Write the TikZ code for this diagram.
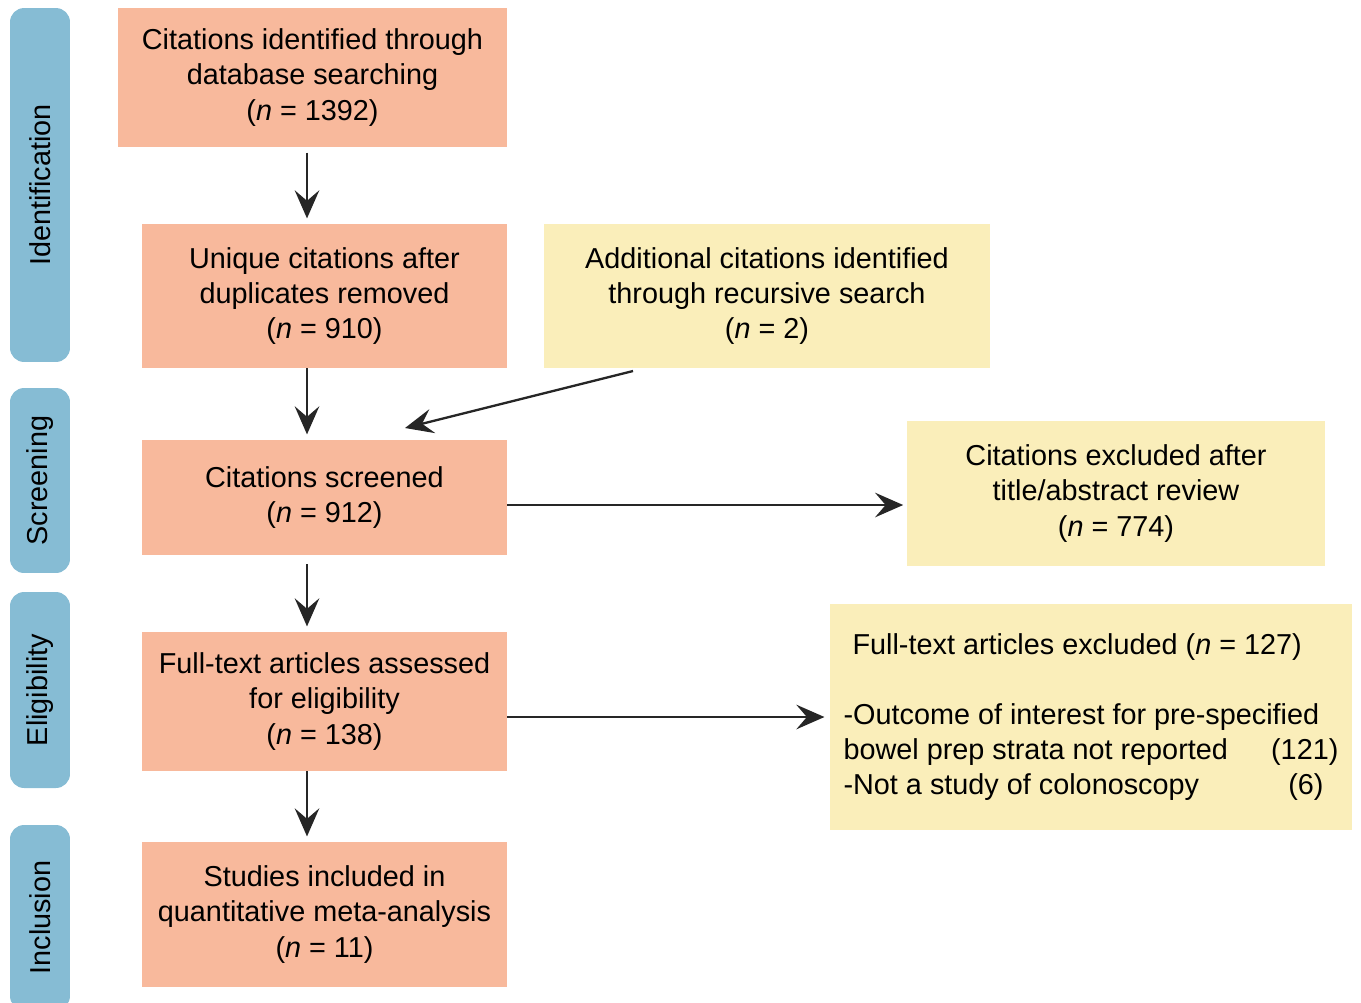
\documentclass[tikz,border=0pt]{standalone}
\usepackage{fontspec}
\setmainfont{Liberation Sans}
\usepackage{tikz}
\usetikzlibrary{positioning, arrows.meta}
\definecolor{salmon}{HTML}{F8B99C}
\definecolor{cream}{HTML}{FAEEBA}
\definecolor{phase}{HTML}{86BCD4}
\tikzset{>={Stealth[length=16pt,width=14pt,inset=6pt]}}
\tikzset{
    stage/.style = {rectangle, fill=salmon, align=center, inner sep=0pt,
                        font=\fontsize{16.4}{20}\selectfont},
    side/.style = {rectangle, fill=cream, align=center, inner sep=0pt,
                        font=\fontsize{16.4}{20}\selectfont},
    phasebox/.style = {rectangle, rounded corners=8pt, fill=phase, inner sep=0pt,
                        minimum width=1.2cm, font=\fontsize{16.4}{20}\selectfont},
    flow/.style = {->, line width=1.3pt, black!85}
}

\begin{document}
\begin{tikzpicture}[x=0.02cm, y=-0.02cm]
			\useasboundingbox (0,0) rectangle (1361,1002);
			% phases
			\node (ident) [phasebox, minimum height=7.08cm] at (40,185) {\rotatebox{90}{Identification}};
			\node (screen) [phasebox, minimum height=3.7cm] at (40,480.5) {\rotatebox{90}{Screening}};
			\node (elig) [phasebox, minimum height=3.92cm] at (40,690) {\rotatebox{90}{Eligibility}};
			\node (incl) [phasebox, minimum height=3.7cm] at (40,917.5) {\rotatebox{90}{Inclusion}};
			% main flow
			\node (found) [stage, minimum width=7.78cm, minimum height=2.78cm] at (312.5,77.5) {Citations identified through\\database searching\\(\textit{n} = 1392)};
			\node (unique) [stage, minimum width=7.3cm, minimum height=2.88cm] at (324.5,296) {Unique citations after\\duplicates removed\\(\textit{n} = 910)};
			\node (extra) [side, minimum width=8.92cm, minimum height=2.88cm] at (767,296) {Additional citations identified\\through recursive search\\(\textit{n} = 2)};
			\node (screened) [stage, minimum width=7.3cm, minimum height=2.3cm] at (324.5,497.5) {Citations screened\\(\textit{n} = 912)};
			\node (dropped) [side, minimum width=8.36cm, minimum height=2.9cm] at (1116,493.5) {Citations excluded after\\title/abstract review\\(\textit{n} = 774)};
			\node (fulltext) [stage, minimum width=7.3cm, minimum height=2.78cm] at (324.5,701.5) {Full-text articles assessed\\for eligibility\\(\textit{n} = 138)};
			\node (ftdropped) [side, minimum width=10.44cm, minimum height=4.52cm, align=left] at (1091,717) {%
				\hspace*{0.18cm}Full-text articles excluded (\textit{n} = 127)\\[20pt]
				-Outcome of interest for pre-specified\\
				\makebox[9.9cm][l]{bowel prep strata not reported\hfill(121)}\\
				\makebox[9.9cm][l]{-Not a study of colonoscopy\hfill(6)\hspace{0.3cm}}};
			\node (included) [stage, minimum width=7.3cm, minimum height=2.9cm] at (324.5,914.5) {Studies included in\\quantitative meta-analysis\\(\textit{n} = 11)};
			% connectors
			\coordinate (spine) at (307,0);
			\coordinate (row) at (0,505);
			\coordinate (tail) at (633,371);
			\coordinate (tip) at (405,428);
			\draw [flow, shorten <=3, shorten >=3] (found.south -| spine) to (unique.north -| spine);
			\draw [flow, shorten >=3] (unique.south -| spine) to (screened.north -| spine);
			\draw [flow] (tail) to (tip);
			\draw [flow, shorten >=2] (screened.east |- row) to (dropped.west |- row);
			\draw [flow, shorten <=5, shorten >=3] (screened.south -| spine) to (fulltext.north -| spine);
			\draw [flow, shorten >=3] (fulltext.east |- ftdropped.west) to (ftdropped.west);
			\draw [flow, shorten >=3] (fulltext.south -| spine) to (included.north -| spine);
		\end{tikzpicture}
\end{document}
